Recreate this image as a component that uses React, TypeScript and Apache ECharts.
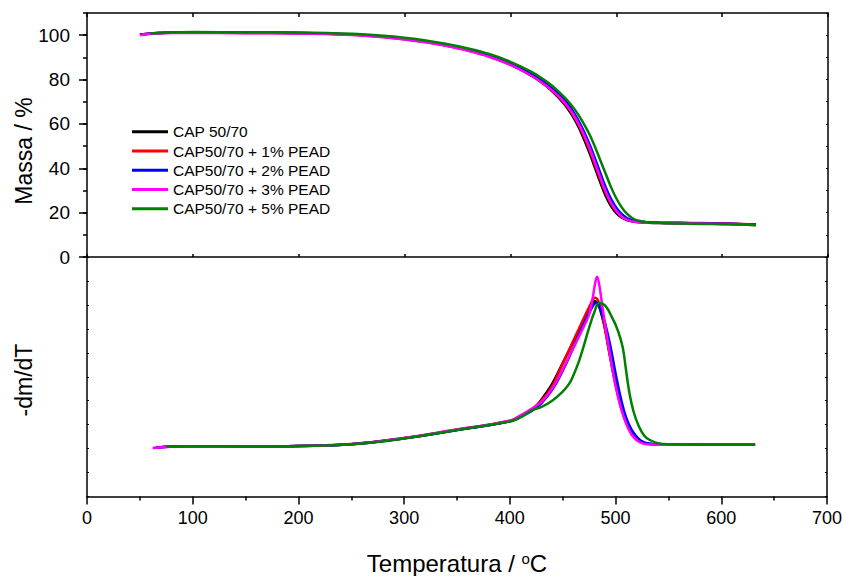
import React, { useEffect, useRef } from "react";
import * as echarts from "echarts";

const seriesNames = ["CAP 50/70", "CAP50/70 + 1% PEAD", "CAP50/70 + 2% PEAD", "CAP50/70 + 3% PEAD", "CAP50/70 + 5% PEAD"];
const seriesColors = ["#000000", "#ff0000", "#0000ff", "#ff00ff", "#008000"];

const massTicks = [0, 20, 40, 60, 80, 100];

// TG (mass %) curves
const massTemps = [50, 60, 70, 80, 100, 150, 200, 250, 280, 300, 320, 340, 360, 380, 400, 420, 430, 440, 450, 455, 460, 465, 470, 475, 480, 485, 490, 495, 500, 505, 510, 515, 520, 530, 540, 560, 580, 600, 620, 632];
const massCAP = [100.2, 100.8, 101.0, 101.1, 101.2, 101.1, 101.0, 100.3, 99.3, 98.3, 97.0, 95.3, 93.2, 90.5, 86.8, 81.8, 78.5, 74.5, 69.5, 66.3, 62.5, 58.0, 52.5, 46.5, 40.0, 33.5, 27.5, 23.0, 19.8, 17.8, 16.7, 16.1, 15.8, 15.5, 15.4, 15.3, 15.2, 15.0, 14.8, 14.5];
const mass1 = [100.3, 100.8, 101.0, 101.1, 101.1, 101.0, 100.9, 100.2, 99.2, 98.2, 96.9, 95.2, 93.1, 90.4, 86.7, 81.8, 78.6, 74.8, 70.0, 67.0, 63.3, 59.0, 53.8, 48.0, 41.5, 35.0, 29.0, 24.2, 20.6, 18.3, 17.0, 16.3, 15.9, 15.6, 15.5, 15.4, 15.3, 15.1, 14.9, 14.6];
const mass2 = [100.2, 100.8, 101.0, 101.1, 101.2, 101.1, 101.0, 100.4, 99.4, 98.5, 97.2, 95.6, 93.5, 90.9, 87.3, 82.5, 79.5, 75.8, 71.3, 68.5, 65.0, 60.8, 56.0, 50.5, 44.3, 37.8, 31.5, 26.2, 22.2, 19.4, 17.6, 16.6, 16.1, 15.6, 15.4, 15.3, 15.2, 15.0, 14.8, 14.5];
const mass3 = [100.0, 100.6, 100.9, 101.0, 101.0, 100.9, 100.8, 100.1, 99.1, 98.1, 96.8, 95.1, 93.0, 90.3, 86.6, 81.7, 78.6, 74.9, 70.3, 67.3, 63.8, 59.5, 54.5, 48.8, 42.3, 35.8, 29.5, 24.5, 20.8, 18.3, 16.9, 16.1, 15.7, 15.4, 15.3, 15.2, 15.1, 14.9, 14.7, 14.4];
const mass5 = [null, 100.8, 101.1, 101.3, 101.4, 101.3, 101.2, 100.6, 99.7, 98.8, 97.6, 96.0, 94.0, 91.5, 88.0, 83.5, 80.5, 77.0, 72.5, 70.0, 67.0, 63.5, 59.5, 55.0, 49.5, 43.5, 37.5, 31.5, 26.5, 22.5, 19.5, 17.6, 16.5, 15.6, 15.3, 15.1, 14.9, 14.8, 14.6, 14.3];

// DTG curves (arbitrary units)
const dtgTempsCAP = [65, 80, 100, 150, 200, 250, 300, 350, 400, 410, 420, 425, 434, 440, 450, 460, 470, 475, 478, 480, 482, 484, 487, 490, 495, 500, 505, 510, 516, 520, 525, 530, 540, 560, 600, 632];
const dtgCAP = [20.4, 20.9, 21.0, 20.9, 21.1, 21.8, 24.3, 27.8, 31.4, 33.6, 36.0, 37.8, 43.0, 47.0, 55.7, 64.5, 73.5, 78.0, 80.6, 81.5, 81.3, 79.8, 75.5, 70.0, 58.0, 47.0, 38.0, 31.0, 26.6, 24.5, 22.8, 22.1, 21.7, 21.6, 21.6, 21.6];
const dtgTemps1 = [65, 80, 100, 150, 200, 250, 300, 350, 400, 410, 420, 430, 440, 450, 460, 470, 476, 479, 481, 483, 486, 490, 495, 500, 505, 510, 515, 520, 525, 530, 540, 560, 600, 632];
const dtg1 = [20.5, 20.9, 21.0, 20.9, 21.1, 21.9, 24.4, 28.0, 31.6, 33.8, 36.2, 40.0, 46.0, 55.5, 65.0, 74.5, 80.0, 82.6, 83.0, 82.2, 78.5, 70.0, 58.0, 47.0, 37.5, 31.0, 26.5, 24.0, 22.6, 22.0, 21.7, 21.6, 21.6, 21.6];
const dtgTemps2 = [65, 80, 100, 150, 200, 250, 300, 350, 400, 410, 420, 430, 440, 450, 460, 470, 476, 479.5, 481.5, 484, 487, 490, 495, 500, 505, 510, 515, 520, 525, 530, 540, 560, 600, 632];
const dtg2 = [20.4, 20.9, 21.0, 20.9, 21.1, 21.8, 24.3, 27.8, 31.4, 33.4, 35.5, 39.0, 44.5, 52.5, 62.0, 72.0, 77.5, 80.2, 80.8, 80.0, 76.5, 72.5, 63.0, 51.5, 41.0, 33.0, 28.0, 25.0, 23.0, 22.2, 21.7, 21.6, 21.6, 21.6];
const dtgTemps3 = [62, 80, 100, 150, 200, 250, 300, 350, 400, 410, 420, 430, 440, 450, 460, 470, 475, 478, 480.5, 482.5, 484.5, 487, 490, 495, 500, 505, 510, 515, 520, 525, 530, 540, 560, 600, 632];
const dtg3 = [20.3, 20.8, 20.9, 20.9, 21.1, 21.8, 24.4, 28.0, 31.6, 33.8, 36.5, 39.5, 45.0, 53.0, 62.0, 71.0, 76.0, 82.0, 88.5, 91.8, 88.5, 81.0, 72.0, 58.5, 46.0, 37.0, 30.5, 26.0, 23.5, 22.3, 21.8, 21.6, 21.6, 21.6, 21.6];
const dtgTemps5 = [75, 100, 150, 200, 250, 300, 350, 400, 410, 421, 430, 440, 450, 456, 460, 465, 470, 475, 480, 484.6, 490, 497, 502, 506.6, 510, 513, 517, 522, 527, 532, 540, 550, 600, 632];
const dtg5 = [20.8, 21.0, 20.9, 21.1, 21.8, 24.2, 27.8, 31.3, 33.0, 36.0, 37.4, 40.0, 43.8, 47.0, 50.5, 56.0, 63.0, 70.5, 77.0, 80.8, 79.8, 74.5, 69.5, 62.6, 52.5, 43.5, 35.5, 29.3, 25.5, 23.7, 22.3, 21.8, 21.6, 21.6];

const zip = (xs: number[], ys: (number | null)[]) => xs.map((x, i) => [x, ys[i]]);

const FONT = "'Liberation Sans', Arial, sans-serif";

export default function App() {
  const ref = useRef<HTMLDivElement>(null);
  useEffect(() => {
    if (!ref.current) return;
    const chart = echarts.init(ref.current, null, { renderer: "svg" });
    const massAll = [massCAP, mass1, mass2, mass3, mass5];
    const dtgAll = [
      zip(dtgTempsCAP, dtgCAP),
      zip(dtgTemps1, dtg1),
      zip(dtgTemps2, dtg2),
      zip(dtgTemps3, dtg3),
      zip(dtgTemps5, dtg5),
    ];
    const line = { color: "#000", width: 1.5 };
    const series: any[] = [];
    seriesNames.forEach((name, i) => {
      series.push({
        name,
        type: "line",
        xAxisIndex: 0,
        yAxisIndex: 0,
        data: zip(massTemps, massAll[i]),
        showSymbol: false,
        symbol: "none",
        smooth: 0.3,
        lineStyle: { color: seriesColors[i], width: 2.5 },
        itemStyle: { color: seriesColors[i] },
      });
    });
    seriesNames.forEach((name, i) => {
      series.push({
        name,
        type: "line",
        xAxisIndex: 2,
        yAxisIndex: 3,
        data: dtgAll[i],
        showSymbol: false,
        symbol: "none",
        smooth: 0.45,
        lineStyle: { color: seriesColors[i], width: 2.5 },
        itemStyle: { color: seriesColors[i] },
      });
    });
    chart.setOption({
      animation: false,
      backgroundColor: "#fff",
      textStyle: { fontFamily: FONT },
      grid: [
        { left: 87, top: 13, width: 741, height: 244 },
        { left: 87, top: 257, width: 741, height: 240 },
      ],
      legend: {
        data: seriesNames.map((n, i) => ({ name: n, icon: "path://M0,0 L36,0 L36,3 L0,3 Z", itemStyle: { color: seriesColors[i] } })),
        orient: "vertical",
        left: 127,
        top: 118,
        itemWidth: 36,
        itemHeight: 14,
        itemGap: 1.5,
        textStyle: { fontSize: 15.5, color: "#000", fontFamily: FONT, lineHeight: 17.7 },
      },
      graphic: [
        {
          type: "text", x: 24, y: 151, rotation: Math.PI / 2,
          style: { text: "Massa / %", fontSize: 23, fill: "#000", fontFamily: FONT, align: "center", verticalAlign: "middle" },
        },
        {
          type: "text", x: 24, y: 380, rotation: Math.PI / 2,
          style: { text: "-dm/dT", fontSize: 23, fill: "#000", fontFamily: FONT, align: "center", verticalAlign: "middle" },
        },
      ],
      xAxis: [
        {
          gridIndex: 0, type: "value", position: "bottom", min: 0, max: 700, interval: 100,
          axisLine: { onZero: false, lineStyle: line },
          axisTick: { inside: true, length: 3, lineStyle: line },
          axisLabel: { show: false },
          splitLine: { show: false },
        },
        {
          gridIndex: 0, type: "value", position: "top", min: 0, max: 700, interval: 100,
          axisLine: { onZero: false, lineStyle: line },
          axisTick: { inside: true, length: 4, lineStyle: line },
          axisLabel: { show: false },
          splitLine: { show: false },
        },
        {
          gridIndex: 1, type: "value", position: "bottom", min: 0, max: 700, interval: 100,
          axisLine: { onZero: false, lineStyle: line },
          axisTick: { inside: false, length: 8, lineStyle: line },
          minorTick: { show: true, splitNumber: 2, length: 4, lineStyle: { color: "#000", width: 1.5 } },
          axisLabel: { show: true, fontSize: 18, color: "#000", margin: 12, fontFamily: FONT },
          splitLine: { show: false },
          name: "{n|Temperatura / }{s|o}{n|C}",
          nameLocation: "middle",
          nameGap: 54,
          nameTextStyle: {
            rich: {
              n: { fontSize: 24, color: "#000", fontFamily: FONT },
              s: { fontSize: 15, color: "#000", fontFamily: FONT, verticalAlign: "top", padding: [0, 0, 10, 0] },
            },
          },
        },
      ],
      yAxis: [
        {
          gridIndex: 0, type: "value", position: "left", min: 0, max: 110, interval: 10,
          axisLine: { onZero: false, lineStyle: line },
          axisTick: { inside: false, length: 8, lineStyle: line, customValues: massTicks },
          axisLabel: {
            show: true, fontSize: 19, color: "#000", margin: 17, fontFamily: FONT,
            customValues: massTicks,
          },
          splitLine: { show: false },
        },
        {
          gridIndex: 0, type: "value", position: "left", min: 0, max: 110, interval: 10,
          axisLine: { show: false },
          axisTick: { inside: false, length: 4, lineStyle: line },
          axisLabel: { show: false },
          splitLine: { show: false },
        },
        {
          gridIndex: 0, type: "value", position: "right", min: 0, max: 110, interval: 10,
          axisLine: { onZero: false, lineStyle: line },
          axisTick: { inside: true, length: 2, lineStyle: { color: "#000", width: 1 } },
          axisLabel: { show: false },
          splitLine: { show: false },
        },
        {
          gridIndex: 1, type: "value", position: "left", min: 0, max: 100, interval: 10,
          axisLine: { onZero: false, lineStyle: line },
          axisTick: { inside: true, length: 2, lineStyle: { color: "#000", width: 1 } },
          axisLabel: { show: false },
          splitLine: { show: false },
        },
        {
          gridIndex: 1, type: "value", position: "right", min: 0, max: 100, interval: 10,
          axisLine: { onZero: false, lineStyle: line },
          axisTick: { inside: true, length: 2, lineStyle: { color: "#000", width: 1 } },
          axisLabel: { show: false },
          splitLine: { show: false },
        },
      ],
      series,
    });
    return () => chart.dispose();
  }, []);
  return <div ref={ref} style={{ width: 845, height: 576, position: "absolute", left: 0, top: 0 }} />;
}
